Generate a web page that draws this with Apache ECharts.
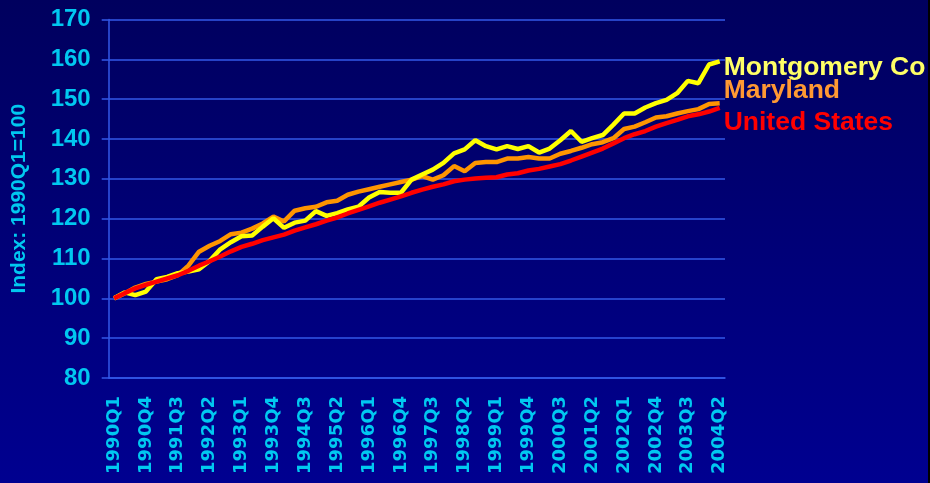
<!DOCTYPE html>
<html>
<head>
<meta charset="utf-8">
<script src="https://cdn.jsdelivr.net/npm/echarts@6/dist/echarts.min.js"></script>
<style>
  html, body { margin: 0; padding: 0; background: #000; }
  #chart { width: 928px; height: 483px; }
</style>
</head>
<body>
<div id="chart"></div>
<script>
// quarters 1990Q1 .. 2004Q2
var quarters = [];
for (var y = 1990; y <= 2004; y++) {
  for (var q = 1; q <= 4; q++) {
    if (y === 2004 && q > 2) break;
    quarters.push(y + 'Q' + q);
  }
}

var montgomery = [
  100, 101.5, 100.8, 101.7, 104.8, 105.4, 106.3, 106.7, 107.3, 109.4,
  112.3, 114.1, 115.6, 115.8, 118, 120.1, 117.7, 119, 119.5, 121.9,
  120.7, 121.4, 122.3, 123, 125.3, 126.7, 126.5, 126.5, 129.8, 131.1,
  132.3, 134, 136.4, 137.4, 139.7, 138.2, 137.4, 138.2, 137.5, 138.2,
  136.6, 137.6, 139.7, 142, 139.3, 140.2, 141, 143.6, 146.4, 146.4,
  147.9, 149, 149.8, 151.5, 154.6, 154, 158.7, 159.5
];
var maryland = [
  100, 101.2, 102.7, 103.6, 104.2, 104.8, 105.8, 108.2, 111.7, 113.2,
  114.4, 116.1, 116.5, 117.5, 118.8, 120.5, 119.3, 122, 122.6, 123,
  124.1, 124.5, 126, 126.8, 127.4, 128, 128.6, 129.2, 129.8, 130.7,
  129.8, 130.9, 133.2, 131.9, 134, 134.2, 134.2, 135.1, 135.1, 135.5,
  135.1, 135.1, 136.3, 137, 137.8, 138.7, 139.2, 140.2, 142.5, 143.1,
  144.2, 145.4, 145.7, 146.4, 147, 147.5, 148.8, 149
];
var unitedStates = [
  100, 101.3, 102.5, 103.4, 104.2, 105, 105.8, 106.9, 108.2, 109.3,
  110.5, 111.8, 112.9, 113.7, 114.6, 115.3, 116, 117, 117.8, 118.6,
  119.5, 120.3, 121.3, 122.2, 123.1, 124, 124.8, 125.6, 126.5, 127.3,
  128, 128.6, 129.4, 129.8, 130.1, 130.3, 130.4, 131.1, 131.4, 132.1,
  132.5, 133.1, 133.7, 134.6, 135.6, 136.6, 137.6, 138.9, 140.2, 141.2,
  142, 143.1, 144, 144.8, 145.7, 146.2, 146.9, 147.8
];

var cyan = '#00c8f0';
var gridBlue = '#3358e8';

var chart = echarts.init(document.getElementById('chart'));

function makeSeries(name, data, lineColor, labelColor, offsetY) {
  return {
    name: name,
    type: 'line',
    data: data,
    symbol: 'none',
    lineStyle: { color: lineColor, width: 4.5 },
    itemStyle: { color: lineColor },
    endLabel: {
      show: true,
      formatter: '{a}',
      color: labelColor,
      fontFamily: 'Liberation Sans, Arial, sans-serif',
      fontWeight: 'bold',
      fontSize: 26.5,
      distance: 4,
      offset: [0, offsetY]
    }
  };
}

chart.setOption({
  animation: false,
  backgroundColor: {
    type: 'linear', x: 0, y: 0, x2: 0, y2: 1,
    colorStops: [
      { offset: 0, color: '#00005e' },
      { offset: 1, color: '#000090' }
    ]
  },
  grid: { left: 108.7, right: 203, top: 19.5, bottom: 105 },
  xAxis: {
    type: 'category',
    data: quarters,
    boundaryGap: true,
    axisLine: { lineStyle: { color: gridBlue, width: 1.5 } },
    axisTick: { interval: 0, length: 7, lineStyle: { color: gridBlue, width: 1 } },
    axisLabel: {
      interval: 2,
      rotate: 90,
      margin: 18,
      color: cyan,
      fontFamily: 'DejaVu Sans, sans-serif',
      fontWeight: 'bold',
      fontSize: 18
    },
    splitLine: { show: false }
  },
  yAxis: {
    type: 'value',
    min: 80,
    max: 170,
    interval: 10,
    name: 'Index: 1990Q1=100',
    nameLocation: 'middle',
    nameGap: 79,
    nameTextStyle: {
      color: cyan,
      fontFamily: 'Liberation Sans, Arial, sans-serif',
      fontWeight: 'bold',
      fontSize: 21
    },
    axisLine: { show: true, lineStyle: { color: gridBlue, width: 1.5 } },
    axisTick: { show: true, inside: false, length: 7, lineStyle: { color: gridBlue, width: 1.5 } },
    axisLabel: {
      margin: 18,
      color: cyan,
      fontFamily: 'Liberation Sans Narrow, Arial Narrow, Liberation Sans, sans-serif',
      fontWeight: 'bold',
      fontSize: 24
    },
    splitLine: { lineStyle: { color: gridBlue, width: 1.5 } }
  },
  series: [
    makeSeries('Maryland', maryland, '#ff9500', '#ff9933', -12),
    makeSeries('Montgomery Co', montgomery, '#ffff00', '#ffff66', 6),
    makeSeries('United States', unitedStates, '#ff0000', '#ff0000', 15)
  ]
});
</script>
</body>
</html>
